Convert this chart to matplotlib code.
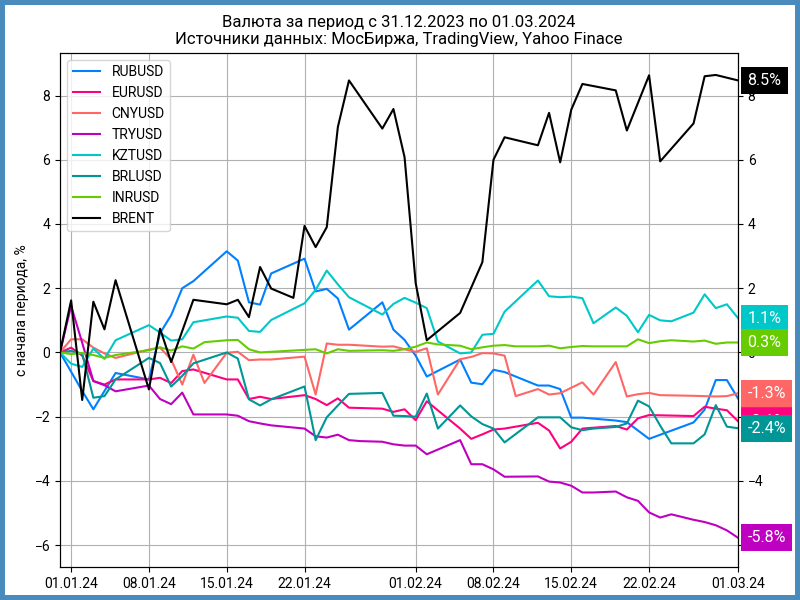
import numpy as np
import matplotlib
matplotlib.use("Agg")
import matplotlib.pyplot as plt
import matplotlib.dates as mdates

plt.rcParams['font.family'] = ['Roboto', 'DejaVu Sans']
plt.rcParams['font.size'] = 10

# дни от 31.12.2023 и изменение в % с начала периода
START = np.datetime64('2023-12-31')

rub_days = [0, 1, 2, 3, 4, 5, 8, 9, 10, 11, 12, 15, 16, 17, 18, 19, 22, 23, 24, 25, 26, 29, 30, 31, 32, 33,
            36, 37, 38, 39, 40, 43, 44, 45, 46, 47, 50, 51, 53, 57, 58, 59, 60, 61]
rub_vals = [0, -0.6, -1.2, -1.77, -1.2, -0.64, -0.84, 0.6, 1.16, 2.0, 2.22, 3.15, 2.86, 1.56, 1.49, 2.46,
            2.92, 1.9, 1.98, 1.68, 0.71, 1.56, 0.71, 0.39, -0.1, -0.75, -0.22, -0.94, -0.99, -0.54, -0.61,
            -1.03, -1.03, -1.14, -2.03, -2.03, -2.12, -2.17, -2.69, -2.18, -1.78, -0.86, -0.86, -1.43]

eur_days = [0, 1, 2, 3, 4, 5, 8, 9, 10, 11, 12, 15, 16, 17, 18, 19, 22, 23, 24, 25, 26, 29, 30, 31, 32, 33,
            36, 37, 38, 39, 40, 43, 44, 45, 46, 47, 50, 51, 52, 53, 57, 58, 59, 60, 61]
eur_vals = [0, 0.15, -0.1, -0.89, -1.0, -0.84, -0.84, -0.79, -0.95, -0.58, -0.53, -0.84, -0.84, -1.45,
            -1.38, -1.45, -1.33, -1.45, -1.64, -1.43, -1.72, -1.75, -1.85, -1.77, -2.11, -1.52, -2.37,
            -2.69, -2.55, -2.40, -2.37, -2.19, -2.43, -2.99, -2.78, -2.37, -2.29, -2.40, -2.05, -1.95,
            -1.98, -1.69, -1.75, -1.80, -2.14]

cny_days = [0, 1, 2, 3, 4, 5, 8, 9, 10, 11, 12, 13, 15, 16, 17, 18, 19, 22, 23, 24, 25, 26, 29, 30, 31, 32,
            33, 34, 36, 37, 38, 39, 40, 41, 43, 44, 45, 47, 48, 50, 51, 52, 53, 54, 57, 59, 60, 61]
cny_vals = [0, 0.41, 0.41, 0.15, -0.03, -0.17, 0.09, 0.15, -0.22, -1.0, -0.07, -0.95, -0.01, 0.02, -0.24,
            -0.22, -0.22, -0.13, -1.31, 0.28, 0.24, 0.24, 0.18, 0.19, 0.1, 0.02, 0.13, -1.31, -0.21, -0.14,
            -0.02, -0.03, -0.1, -1.36, -1.14, -1.31, -1.27, -0.93, -1.31, -0.3, -1.37, -1.30, -1.26, -1.33,
            -1.35, -1.37, -1.36, -1.27]

try_days = [0, 1, 2, 3, 4, 5, 8, 9, 10, 11, 12, 15, 16, 17, 18, 19, 22, 23, 24, 25, 26, 27, 29, 30, 31, 32,
            33, 36, 37, 38, 39, 40, 43, 44, 45, 46, 47, 48, 50, 51, 52, 53, 54, 55, 57, 58, 59, 60, 61]
try_vals = [0, 1.45, 0.3, -0.89, -1.02, -1.21, -1.03, -1.45, -1.61, -1.25, -1.93, -1.93, -1.97, -2.14,
            -2.21, -2.27, -2.37, -2.61, -2.65, -2.56, -2.73, -2.76, -2.78, -2.86, -2.9, -2.9, -3.17, -2.73,
            -3.48, -3.48, -3.64, -3.87, -3.86, -4.02, -4.05, -4.15, -4.36, -4.36, -4.33, -4.51, -4.62,
            -4.98, -5.14, -5.04, -5.21, -5.28, -5.38, -5.54, -5.77]

kzt_days = [0, 1, 2, 3, 4, 5, 8, 9, 10, 11, 12, 15, 16, 17, 18, 19, 22, 23, 24, 25, 26, 29, 30, 31, 32, 33,
            34, 36, 37, 38, 39, 40, 43, 44, 45, 46, 47, 48, 50, 51, 52, 53, 54, 55, 57, 58, 59, 60, 61]
kzt_vals = [0, -0.35, -0.45, 0.12, -0.2, 0.38, 0.85, 0.62, 0.37, 0.41, 0.94, 1.12, 1.08, 0.67, 0.64, 1.01,
            1.53, 1.95, 2.55, 2.12, 1.72, 1.18, 1.51, 1.70, 1.55, 1.38, 0.34, -0.03, 0.0, 0.55, 0.58, 1.27,
            2.24, 1.75, 1.72, 1.74, 1.69, 0.91, 1.40, 1.14, 0.63, 1.17, 1.0, 0.97, 1.24, 1.81, 1.38, 1.50,
            1.07]

brl_days = [0, 1, 2, 3, 4, 5, 8, 9, 10, 11, 12, 15, 16, 17, 18, 19, 22, 23, 24, 25, 26, 29, 30, 31, 32, 33,
            34, 36, 37, 38, 39, 40, 43, 44, 45, 46, 47, 48, 50, 51, 52, 53, 54, 55, 57, 58, 59, 60, 61]
brl_vals = [0, 0.05, -0.04, -1.41, -1.36, -0.84, -0.17, -0.33, -1.06, -0.73, -0.34, 0.0, -0.19, -1.46,
            -1.65, -1.46, -1.06, -2.73, -2.02, -1.65, -1.29, -1.26, -1.97, -1.98, -2.0, -1.28, -2.37, -1.65,
            -1.99, -2.23, -2.37, -2.8, -2.02, -2.02, -2.02, -2.33, -2.42, -2.37, -2.32, -2.21, -1.5, -1.68,
            -2.28, -2.83, -2.83, -2.55, -1.64, -2.31, -2.36]

inr_days = [0, 1, 2, 3, 4, 5, 8, 9, 10, 11, 12, 13, 15, 16, 17, 18, 22, 23, 24, 25, 26, 29, 30, 31, 32, 33,
            34, 36, 37, 38, 39, 40, 41, 43, 44, 45, 46, 47, 48, 50, 51, 52, 53, 54, 55, 57, 58, 59, 60, 61]
inr_vals = [0, -0.05, -0.02, -0.08, -0.17, -0.08, 0.07, 0.16, 0.06, 0.19, 0.12, 0.32, 0.38, 0.39, 0.1, 0.0,
            0.08, 0.1, -0.03, 0.1, 0.05, 0.07, 0.05, 0.10, 0.18, 0.31, 0.25, 0.21, 0.10, 0.16, 0.21, 0.23,
            0.19, 0.19, 0.21, 0.13, 0.17, 0.2, 0.19, 0.19, 0.19, 0.41, 0.29, 0.35, 0.38, 0.34, 0.37, 0.27,
            0.31, 0.31]

brent_days = [0, 1, 2, 3, 4, 5, 8, 9, 10, 12, 15, 16, 17, 18, 19, 21, 22, 23, 24, 25, 26, 29, 30, 31, 32,
              33, 36, 38, 39, 40, 43, 44, 45, 46, 47, 50, 51, 53, 54, 57, 58, 59, 61]
brent_vals = [0, 1.62, -1.48, 1.58, 0.72, 2.25, -1.15, 0.74, -0.3, 1.64, 1.5, 1.64, 1.1, 2.66, 1.99, 1.7,
              3.94, 3.28, 3.9, 7.02, 8.47, 6.97, 7.58, 6.08, 2.16, 0.38, 1.23, 2.81, 6.0, 6.7, 6.45, 7.46,
              5.92, 7.56, 8.36, 8.16, 6.91, 8.63, 5.95, 7.13, 8.6, 8.64, 8.47]

names = ['RUBUSD', 'EURUSD', 'CNYUSD', 'TRYUSD', 'KZTUSD', 'BRLUSD', 'INRUSD', 'BRENT']
colors = ['#0080ff', '#ff0080', '#ff6666', '#c000c0', '#00c8c8', '#009696', '#66cc00', '#000000']
series = [(rub_days, rub_vals), (eur_days, eur_vals), (cny_days, cny_vals), (try_days, try_vals),
          (kzt_days, kzt_vals), (brl_days, brl_vals), (inr_days, inr_vals), (brent_days, brent_vals)]

tick_dates = ['2024-01-01', '2024-01-08', '2024-01-15', '2024-01-22', '2024-02-01',
              '2024-02-08', '2024-02-15', '2024-02-22', '2024-03-01']

fig = plt.figure(figsize=(8, 6), dpi=100, edgecolor='#4a8bbd', linewidth=7)
ax = fig.add_axes([0.075, 0.055, 0.8475, 0.857])

for name, color, (days, vals) in zip(names, colors, series):
    dates = START + np.array(days, dtype='timedelta64[D]')
    ax.plot(dates, vals, color=color, linewidth=1.5, label=name)

ax.set_xlim(START, np.datetime64('2024-03-01'))
ax.set_ylim(-6.68, 9.33)
ax.set_yticks(range(-6, 9, 2))
ax.set_xticks(np.array(tick_dates, dtype='datetime64[D]'))
ax.xaxis.set_major_formatter(mdates.DateFormatter('%d.%m.%y'))
ax.grid(True, color='#b0b0b0', linewidth=0.8)
ax.set_ylabel('с начала периода, %')
ax.legend(loc='upper left')
ax.set_title('Валюта за период с 31.12.2023 по 01.03.2024\n'
             'Источники данных: МосБиржа, TradingView, Yahoo Finace', fontsize=12)

ax2 = ax.twinx()
ax2.set_ylim(ax.get_ylim())
ax2.set_yticks(range(-6, 9, 2))

# подписи последних значений справа
for color, (days, vals) in zip(colors, series):
    last = vals[-1]
    ax2.text(1.014, last, f'{last:.1f}%', transform=ax2.get_yaxis_transform(),
             color='white', fontsize=11.5, ha='left', va='center', zorder=5,
             bbox=dict(boxstyle='square,pad=0.38', facecolor=color, edgecolor='none'))

fig.savefig('out.png', dpi=100)
